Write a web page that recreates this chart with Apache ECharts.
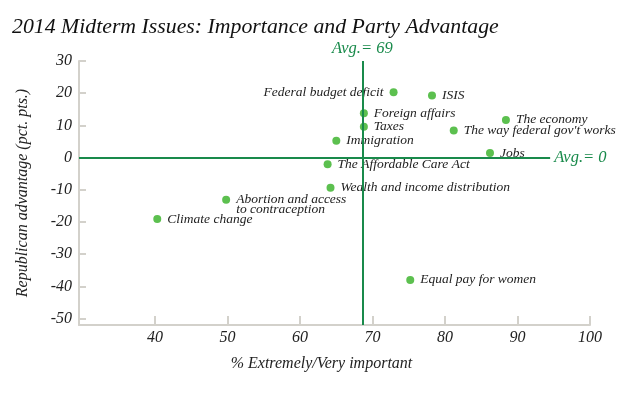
<!DOCTYPE html>
<html>
<head>
<meta charset="utf-8">
<script src="https://cdn.jsdelivr.net/npm/echarts@6/dist/echarts.min.js"></script>
<style>
  html, body { margin: 0; padding: 0; background: #fff; }
  #chart { width: 619px; height: 396px; }
</style>
</head>
<body>
<div id="chart"></div>
<script>
// values
const issues = [
  "Federal budget deficit", "ISIS", "Foreign affairs", "Taxes", "The economy",
  "The way federal gov't works", "Immigration", "Jobs", "The Affordable Care Act",
  "Wealth and income distribution", "Abortion and access\nto contraception",
  "Climate change", "Equal pay for women"
];
const importance = [72.9, 78.2, 68.8, 68.8, 88.4, 81.2, 65.0, 86.2, 63.8, 64.2, 49.8, 40.3, 75.2];
const advantage = [20.3, 19.3, 13.8, 9.6, 11.7, 8.4, 5.2, 1.4, -2.1, -9.4, -13.1, -19.1, -38.0];
const xTicks = [40, 50, 60, 70, 80, 90, 100];
const yTicks = [-50, -40, -30, -20, -10, 0, 10, 20, 30];
const avgImportance = 68.6;
const avgAdvantage = 0;

const serif = "Liberation Serif";
const green = "#198a4b";
const axisGray = "#d3d1cb";
const leftLabels = ["Federal budget deficit"];

const chart = echarts.init(document.getElementById("chart"));

const points = issues.map((name, i) => {
  const item = {
    name: name,
    value: [importance[i], advantage[i]],
    label: { position: leftLabels.includes(name) ? "left" : "right" }
  };
  // two-line label: first line sits level with the dot
  if (name.indexOf("\n") >= 0) item.label.offset = [0, 5];
  return item;
});

chart.setOption({
  animation: false,
  title: {
    text: "2014 Midterm Issues: Importance and Party Advantage",
    left: 7,
    top: 11,
    textStyle: { fontFamily: serif, fontStyle: "italic", fontWeight: "normal", fontSize: 21.8, color: "#111" }
  },
  grid: { left: 79, right: 29, top: 61, bottom: 71 },
  xAxis: {
    type: "value",
    min: 29.5,
    max: 100,
    name: "% Extremely/Very important",
    nameLocation: "middle",
    nameGap: 31,
    nameTextStyle: { fontFamily: serif, fontStyle: "italic", fontSize: 16, color: "#222", padding: [0, 26, 0, 0] },
    axisLine: { show: true, onZero: false, lineStyle: { color: axisGray, width: 2 } },
    axisTick: { show: true, inside: true, length: 9, customValues: xTicks, lineStyle: { color: axisGray, width: 2 } },
    axisLabel: { customValues: xTicks, margin: 5, fontFamily: serif, fontStyle: "italic", fontSize: 16, color: "#222" },
    splitLine: { show: false }
  },
  yAxis: {
    type: "value",
    min: -52,
    max: 30,
    name: "Republican advantage (pct. pts.)",
    nameLocation: "middle",
    nameGap: 48,
    nameTextStyle: { fontFamily: serif, fontStyle: "italic", fontSize: 16, color: "#222" },
    axisLine: { show: true, onZero: false, lineStyle: { color: axisGray, width: 2 } },
    axisTick: { show: true, inside: true, length: 7, customValues: yTicks, lineStyle: { color: axisGray, width: 2 } },
    axisLabel: { customValues: yTicks, margin: 7, fontFamily: serif, fontStyle: "italic", fontSize: 16, color: "#222" },
    splitLine: { show: false }
  },
  series: [{
    type: "scatter",
    symbolSize: 8,
    itemStyle: { color: "#5cc04f", opacity: 1 },
    label: {
      show: true,
      formatter: "{b}",
      distance: 6,
      fontFamily: serif,
      fontStyle: "italic",
      fontSize: 13.5,
      lineHeight: 10,
      color: "#222"
    },
    data: points,
    markLine: {
      silent: true,
      symbol: "none",
      lineStyle: { color: green, width: 2, type: "solid" },
      label: { fontFamily: serif, fontStyle: "italic", fontSize: 16.5, color: green, distance: 4 },
      data: [
        [
          { coord: [29.5, avgAdvantage], label: { position: "end", formatter: "Avg.= " + avgAdvantage } },
          { coord: [94.5, avgAdvantage] }
        ],
        [
          { coord: [avgImportance, -52], label: { position: "end", formatter: "Avg.= " + Math.round(avgImportance) } },
          { coord: [avgImportance, 30] }
        ]
      ]
    }
  }]
});
</script>
</body>
</html>
